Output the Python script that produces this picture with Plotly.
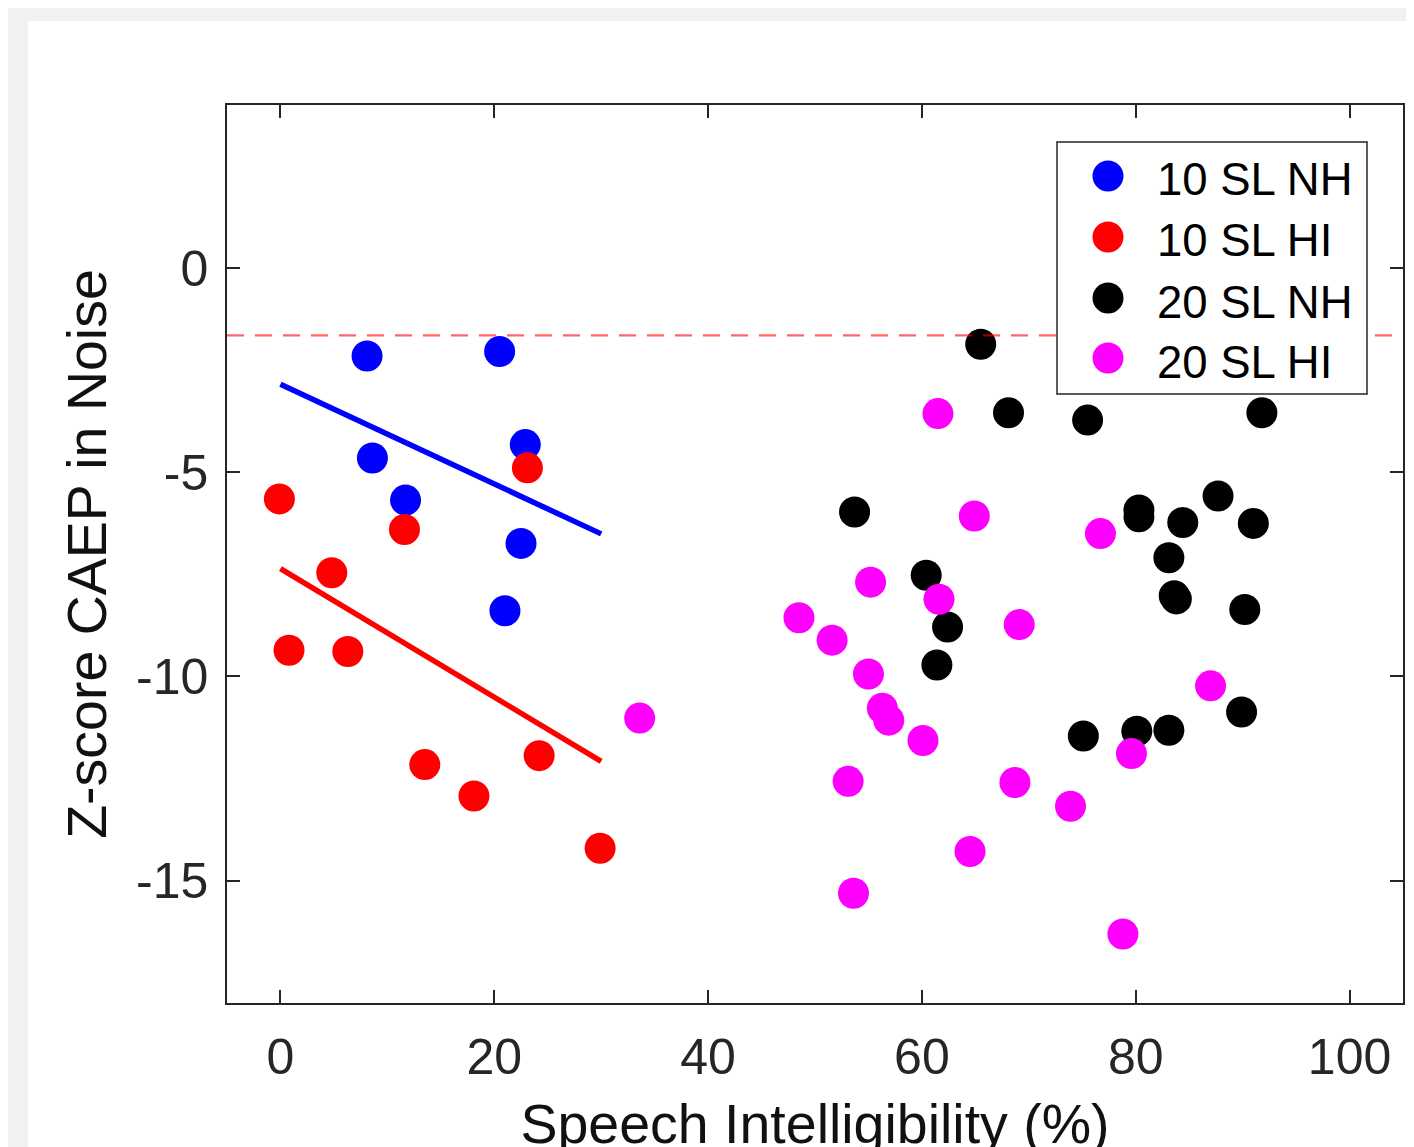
import numpy as np
import plotly.graph_objects as go

# ---------------- data ----------------
nh10_x = [8.1, 20.5, 22.9, 8.6, 11.7, 22.5, 21.0]
nh10_y = [-2.15, -2.04, -4.32, -4.65, -5.68, -6.74, -8.39]

hi10_x = [-0.1, 23.1, 11.6, 4.8, 0.8, 6.3, 13.5, 18.1, 24.2, 29.9]
hi10_y = [-5.65, -4.89, -6.40, -7.46, -9.36, -9.39, -12.16, -12.93, -11.94, -14.21]

nh20_x = [65.5, 68.1, 75.5, 91.8, 53.7, 80.3, 80.3, 84.4, 87.7, 91.0, 83.1,
          83.6, 83.8, 90.2, 60.4, 62.4, 61.4, 75.1, 80.1, 83.1, 89.9]
nh20_y = [-1.86, -3.54, -3.72, -3.54, -5.97, -5.92, -6.09, -6.23, -5.58, -6.25, -7.09,
          -8.02, -8.10, -8.36, -7.52, -8.79, -9.72, -11.46, -11.34, -11.32, -10.87]

hi20_x = [33.6, 61.5, 64.9, 55.2, 61.6, 48.5, 51.6, 69.1, 76.7, 55.0, 56.3,
          56.9, 60.1, 53.1, 68.7, 73.9, 64.5, 53.6, 78.8, 79.6, 87.0]
hi20_y = [-11.02, -3.56, -6.07, -7.69, -8.11, -8.56, -9.11, -8.73, -6.50, -9.94, -10.78,
          -11.07, -11.57, -12.57, -12.60, -13.18, -14.29, -15.31, -16.31, -11.89, -10.23]

series_names = ["10 SL NH", "10 SL HI", "20 SL NH", "20 SL HI"]
series_colors = ["#0000ff", "#ff0000", "#000000", "#ff00ff"]

fit_x = [0, 30]            # range over which the least-squares lines are drawn
threshold = -1.645         # criterion z-score (dashed line)

x_ticks = [0, 20, 40, 60, 80, 100]
x_tick_labels = ["0", "20", "40", "60", "80", "100"]
y_ticks = [0, -5, -10, -15]
y_tick_labels = ["0", "-5", "-10", "-15"]
x_range = [-5, 105]
y_range = [-18, 4]

# ---------------- figure ----------------
OFF = 8                    # page body margin of the browser
W, H = 1414, 1147
ML = 227 - OFF
MT = 105 - OFF
MR = W - (1403 - OFF)
MB = H - (1003 - OFF)
PW, PH = W - ML - MR, H - MT - MB

def px2paper_x(px):        # px: position in the window
    return (px - OFF - ML) / PW

def px2paper_y(py):
    return (H - MB - (py - OFF)) / PH

FONT = "Liberation Sans, Arial, Helvetica, sans-serif"
MS = 31

fig = go.Figure()

series = [(nh10_x, nh10_y), (hi10_x, hi10_y), (nh20_x, nh20_y), (hi20_x, hi20_y)]
for (sx, sy), name, col in zip(series, series_names, series_colors):
    fig.add_trace(go.Scatter(x=sx, y=sy, mode="markers", name=name,
                             marker=dict(size=MS, color=col, line=dict(width=0)),
                             showlegend=False))

# least-squares fit lines for the 10 SL groups
for (sx, sy), col in [((nh10_x, nh10_y), "#0000ff"), ((hi10_x, hi10_y), "#ff0000")]:
    b, a = np.polyfit(sx, sy, 1)
    fx = np.array(fit_x, dtype=float)
    fig.add_trace(go.Scatter(x=fx, y=a + b * fx, mode="lines",
                             line=dict(color=col, width=5.5), showlegend=False,
                             hoverinfo="skip"))

shapes = []
# outer white figure panel on a light grey window
shapes.append(dict(type="rect", xref="paper", yref="paper", layer="below",
                   x0=px2paper_x(28), x1=px2paper_x(W + 40),
                   y0=px2paper_y(H + 40), y1=px2paper_y(21),
                   fillcolor="white", line=dict(width=0)))
# dashed threshold line
shapes.append(dict(type="line", xref="paper", yref="y", x0=0, x1=1,
                   y0=threshold, y1=threshold, layer="above",
                   line=dict(color="rgba(255,0,0,0.6)", width=2.2, dash="17px,11px")))
# legend box
shapes.append(dict(type="rect", xref="paper", yref="paper", layer="above",
                   x0=px2paper_x(1057), x1=px2paper_x(1367),
                   y0=px2paper_y(394), y1=px2paper_y(142),
                   fillcolor="white", line=dict(color="#262626", width=1.5)))

annotations = []
row_y = [176, 237, 298, 358]
for ry, name, col in zip(row_y, series_names, series_colors):
    shapes.append(dict(type="circle", xref="paper", yref="paper", layer="above",
                       xsizemode="pixel", ysizemode="pixel",
                       xanchor=px2paper_x(1108), yanchor=px2paper_y(ry),
                       x0=-MS / 2, x1=MS / 2, y0=-MS / 2, y1=MS / 2,
                       fillcolor=col, line=dict(width=0)))
    annotations.append(dict(xref="paper", yref="paper", x=px2paper_x(1155),
                            y=px2paper_y(ry + 4), xanchor="left", yanchor="middle",
                            text=name, showarrow=False,
                            font=dict(family=FONT, size=45.5, color="#000000")))

axis_common = dict(showline=True, linecolor="#262626", linewidth=1.5, mirror="ticks",
                   ticks="inside", ticklen=13, tickwidth=1.5, tickcolor="#262626",
                   showgrid=False, zeroline=False,
                   tickfont=dict(family=FONT, size=50, color="#262626"))

fig.update_layout(
    width=W, height=H,
    margin=dict(l=ML, r=MR, t=MT, b=MB, autoexpand=False),
    paper_bgcolor="#f0f1f3", plot_bgcolor="white",
    xaxis=dict(range=x_range, tickvals=x_ticks, ticktext=x_tick_labels,
               ticklabelstandoff=9,
               title=dict(text="Speech Intelligibility (%)", standoff=38,
                          font=dict(family=FONT, size=55.5, color="#111111")),
               **axis_common),
    yaxis=dict(range=y_range, tickvals=y_ticks, ticktext=y_tick_labels,
               ticklabelstandoff=7,
               title=dict(text="Z-score CAEP in Noise", standoff=12,
                          font=dict(family=FONT, size=55.5, color="#111111")),
               **axis_common),
    shapes=shapes, annotations=annotations, showlegend=False,
)

fig.write_html("out.html")
